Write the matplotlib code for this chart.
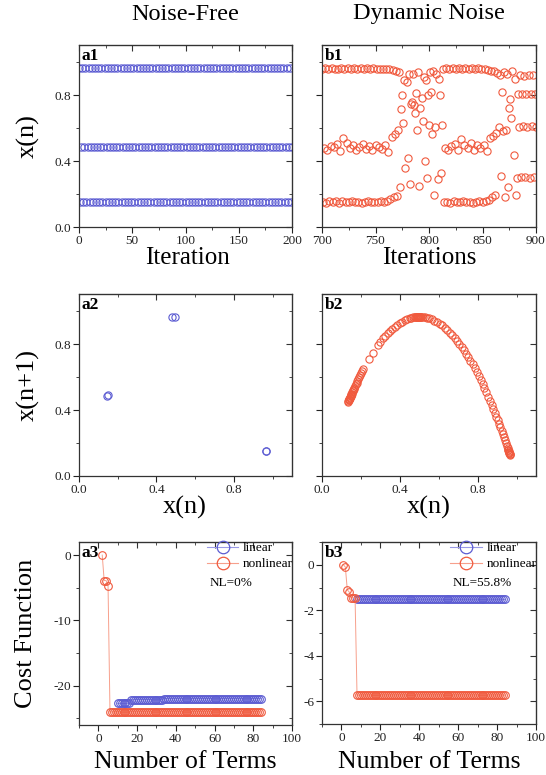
import numpy as np
import matplotlib
matplotlib.use('Agg')
import matplotlib.pyplot as plt
from matplotlib.ticker import MultipleLocator, FormatStrFormatter
from matplotlib.lines import Line2D

plt.rcParams['font.family'] = 'Liberation Serif'
plt.rcParams['axes.unicode_minus'] = False

BLUE = '#5b5bd2'
RED = '#f05a3e'

# ---- row 1: time series ----
a1_cycle = [0.965, 0.150, 0.487]
a1_iter = np.arange(0, 201)
a1_x = np.resize(a1_cycle, a1_iter.size)

b1_iter = np.arange(700, 901)
b1_x = [
    0.962, 0.150, 0.480, 0.964, 0.148, 0.470, 0.961, 0.155, 0.492, 0.963, 0.152, 0.485, 0.960, 0.158, 0.505,
    0.962, 0.147, 0.462, 0.964, 0.160, 0.540, 0.961, 0.153, 0.512, 0.963, 0.149, 0.478, 0.962, 0.156, 0.497,
    0.964, 0.151, 0.470, 0.961, 0.154, 0.488, 0.963, 0.148, 0.503, 0.962, 0.152, 0.476, 0.964, 0.157, 0.492,
    0.961, 0.150, 0.468, 0.963, 0.153, 0.498, 0.962, 0.149, 0.485, 0.960, 0.155, 0.472, 0.962, 0.152, 0.495,
    0.958, 0.160, 0.458,
    # burst 1
    0.957, 0.170, 0.545, 0.955, 0.180, 0.565, 0.948, 0.190, 0.590, 0.940,
    0.245, 0.714, 0.800, 0.633, 0.893, 0.360, 0.878, 0.420, 0.930, 0.260,
    0.745, 0.757, 0.930, 0.740, 0.693, 0.815, 0.589, 0.940, 0.247, 0.720,
    0.786, 0.645, 0.913, 0.400, 0.890, 0.300, 0.800, 0.620, 0.940, 0.820,
    0.565, 0.950, 0.195, 0.605, 0.930, 0.290, 0.900, 0.800, 0.330, 0.618,
    # window 2
    0.962, 0.152, 0.478, 0.964, 0.150, 0.465, 0.961, 0.148, 0.490, 0.963, 0.155, 0.505,
    0.962, 0.151, 0.470, 0.964, 0.149, 0.532, 0.961, 0.156, 0.500, 0.963, 0.150, 0.478,
    0.962, 0.153, 0.512, 0.964, 0.148, 0.470, 0.961, 0.152, 0.495, 0.963, 0.155, 0.482,
    0.960, 0.150, 0.500, 0.958, 0.158, 0.460,
    # burst 2
    0.955, 0.165, 0.540, 0.950, 0.180, 0.555, 0.945, 0.195, 0.570, 0.935,
    0.610, 0.920, 0.310, 0.820, 0.580, 0.940, 0.185, 0.589, 0.930, 0.245,
    0.720, 0.780, 0.664, 0.950, 0.440, 0.900,
    # period-4 end
    0.195, 0.300, 0.810, 0.610, 0.920, 0.302, 0.808, 0.612, 0.919, 0.301,
    0.810, 0.608, 0.920, 0.300, 0.809, 0.611, 0.921, 0.302, 0.810, 0.610,
]

# ---- row 2: return maps ----
a2_xn = [0.147, 0.150, 0.482, 0.495, 0.964, 0.966]
a2_xn1 = [0.486, 0.490, 0.966, 0.966, 0.152, 0.150]

b2_xn = [0.134, 0.136, 0.138, 0.139, 0.140, 0.141, 0.142, 0.143, 0.145, 0.147, 0.148, 0.150, 0.151,
         0.152, 0.155, 0.158, 0.160, 0.163, 0.166, 0.170, 0.174, 0.178, 0.182, 0.187, 0.192, 0.197,
         0.202, 0.208, 0.212, 0.243, 0.262, 0.290, 0.300, 0.315, 0.325, 0.338, 0.350, 0.362, 0.375,
         0.388, 0.400, 0.412, 0.425, 0.438, 0.450, 0.460, 0.470, 0.478, 0.480, 0.485, 0.488, 0.490,
         0.492, 0.495, 0.498, 0.500, 0.502, 0.505, 0.507, 0.510, 0.518, 0.528, 0.540, 0.552, 0.565,
         0.578, 0.592, 0.605, 0.618, 0.632, 0.645, 0.658, 0.670, 0.682, 0.694, 0.706, 0.718, 0.730,
         0.741, 0.752, 0.763, 0.774, 0.785, 0.795, 0.805, 0.815, 0.825, 0.835, 0.845, 0.855, 0.864,
         0.872, 0.880, 0.888, 0.896, 0.903, 0.910, 0.917, 0.923, 0.929, 0.935, 0.940, 0.945, 0.950,
         0.954, 0.957, 0.958, 0.960, 0.961, 0.962, 0.963, 0.964, 0.965, 0.966]
b2_xn1 = [0.449, 0.455, 0.460, 0.463, 0.466, 0.469, 0.472, 0.474, 0.480, 0.485, 0.488, 0.493, 0.496,
          0.499, 0.507, 0.515, 0.520, 0.528, 0.536, 0.546, 0.556, 0.566, 0.576, 0.588, 0.600, 0.612,
          0.624, 0.638, 0.647, 0.712, 0.748, 0.797, 0.813, 0.835, 0.849, 0.866, 0.880, 0.894, 0.907,
          0.919, 0.929, 0.938, 0.946, 0.953, 0.958, 0.961, 0.964, 0.966, 0.966, 0.967, 0.967, 0.967,
          0.967, 0.967, 0.968, 0.968, 0.968, 0.967, 0.967, 0.967, 0.966, 0.965, 0.961, 0.957, 0.951,
          0.944, 0.935, 0.925, 0.914, 0.900, 0.886, 0.871, 0.856, 0.839, 0.822, 0.803, 0.784, 0.763,
          0.743, 0.722, 0.700, 0.677, 0.653, 0.631, 0.608, 0.584, 0.559, 0.533, 0.507, 0.480, 0.455,
          0.432, 0.409, 0.385, 0.361, 0.339, 0.317, 0.295, 0.275, 0.255, 0.235, 0.218, 0.201, 0.184,
          0.170, 0.159, 0.156, 0.149, 0.145, 0.142, 0.138, 0.134, 0.131, 0.127]

# ---- row 3: cost function vs number of terms ----
a3_lin_terms = np.arange(10, 85)
a3_lin_cost = [-22.7] * 7 + [-22.1] * 17 + [-21.95] * 51
a3_nl_terms = np.arange(2, 85)
a3_nl_cost = [0.0, -3.9, -3.9, -4.7] + [-24.0] * 79

b3_lin_terms = np.arange(8, 85)
b3_lin_cost = [-1.52] * 77
b3_nl_terms = np.arange(1, 85)
b3_nl_cost = [0.0, -0.1, -1.1, -1.2, -1.45, -1.45, -1.45] + [-5.73] * 77

W, H = 546, 775
fig = plt.figure(figsize=(W / 100, H / 100), dpi=100)


def box(x0, y0, x1, y1):
    return [x0 / W, 1 - y1 / H, (x1 - x0) / W, (y1 - y0) / H]


ax_a1 = fig.add_axes(box(79, 45, 292, 227))
ax_b1 = fig.add_axes(box(322, 45, 536, 227))
ax_a2 = fig.add_axes(box(79, 294, 292, 476))
ax_b2 = fig.add_axes(box(322, 294, 536, 476))
ax_a3 = fig.add_axes(box(79, 542, 292, 725))
ax_b3 = fig.add_axes(box(322, 542, 536, 724))


def style(ax, xlim, ylim, xmaj, xmin, ymaj, ymin, xfmt=None, yfmt=None, ylabels=True):
    ax.set_xlim(xlim)
    ax.set_ylim(ylim)
    ax.xaxis.set_major_locator(MultipleLocator(xmaj))
    ax.xaxis.set_minor_locator(MultipleLocator(xmin))
    ax.yaxis.set_major_locator(MultipleLocator(ymaj))
    ax.yaxis.set_minor_locator(MultipleLocator(ymin))
    if xfmt:
        ax.xaxis.set_major_formatter(FormatStrFormatter(xfmt))
    if yfmt:
        ax.yaxis.set_major_formatter(FormatStrFormatter(yfmt))
    ax.tick_params(which='both', direction='out', labelsize=9.5, pad=1.5, colors='#222222')
    ax.tick_params(which='major', length=4, width=0.8)
    ax.tick_params(which='minor', length=2.5, width=0.6)
    if not ylabels:
        ax.tick_params(labelleft=False)
    for s in ax.spines.values():
        s.set_linewidth(0.9)
        s.set_color('#333333')
    # mirrored inward ticks on top and right
    sx = ax.secondary_xaxis('top')
    sx.xaxis.set_major_locator(MultipleLocator(xmaj))
    sx.xaxis.set_minor_locator(MultipleLocator(xmin))
    sx.tick_params(which='both', direction='in', labeltop=False, colors='#333333')
    sx.tick_params(which='major', length=4, width=0.8)
    sx.tick_params(which='minor', length=2.5, width=0.6)
    sy = ax.secondary_yaxis('right')
    sy.yaxis.set_major_locator(MultipleLocator(ymaj))
    sy.yaxis.set_minor_locator(MultipleLocator(ymin))
    sy.tick_params(which='both', direction='in', labelright=False, colors='#333333')
    sy.tick_params(which='major', length=4, width=0.8)
    sy.tick_params(which='minor', length=2.5, width=0.6)


mk = dict(marker='o', mfc='none', ms=5.2, mew=0.8, linestyle='none')

ax_a1.plot(a1_iter, a1_x, mec=BLUE, **mk)
style(ax_a1, (0, 200), (0, 1.105), 50, 25, 0.4, 0.2, yfmt='%.1f')

ax_b1.plot(b1_iter, b1_x, mec=RED, **mk)
style(ax_b1, (700, 900), (0, 1.105), 50, 25, 0.4, 0.2, ylabels=False)

ax_a2.plot(a2_xn, a2_xn1, mec=BLUE, **mk)
style(ax_a2, (0, 1.1), (0, 1.105), 0.4, 0.2, 0.4, 0.2, xfmt='%.1f', yfmt='%.1f')

ax_b2.plot(b2_xn, b2_xn1, mec=RED, **mk)
style(ax_b2, (0, 1.1), (0, 1.105), 0.4, 0.2, 0.4, 0.2, xfmt='%.1f', ylabels=False)

lk = dict(marker='o', mfc='none', ms=5.5, mew=0.8, lw=0.7)
ax_a3.plot(a3_lin_terms, a3_lin_cost, color='#9a9ae6', mec=BLUE, **lk)
ax_a3.plot(a3_nl_terms, a3_nl_cost, color='#f7a08c', mec=RED, **lk)
style(ax_a3, (-10, 100), (-26, 2), 20, 10, 10, 5)

ax_b3.plot(b3_lin_terms, b3_lin_cost, color='#9a9ae6', mec=BLUE, **lk)
ax_b3.plot(b3_nl_terms, b3_nl_cost, color='#f7a08c', mec=RED, **lk)
style(ax_b3, (-10, 100), (-7, 1), 20, 10, 2, 1)

handles = [
    Line2D([], [], color='#9a9ae6', lw=0.8, marker='o', mfc='none', mec=BLUE, ms=9, mew=0.9),
    Line2D([], [], color='#f7a08c', lw=0.8, marker='o', mfc='none', mec=RED, ms=9, mew=0.9),
]
for ax, nl in [(ax_a3, 'NL=0%'), (ax_b3, 'NL=55.8%')]:
    ax.legend(handles, ['linear', 'nonlinear'], loc='upper left', bbox_to_anchor=(0.6, 1.0),
              frameon=False, fontsize=9.5, handlelength=2.4, handletextpad=0.35,
              labelspacing=0.3, borderpad=0.0, borderaxespad=0.0)
    ax.text(0.612, 0.775, nl, transform=ax.transAxes, fontsize=9.5, va='center', ha='left')

for ax, lab in [(ax_a1, 'a1'), (ax_b1, 'b1'), (ax_a2, 'a2'), (ax_b2, 'b2'), (ax_a3, 'a3'), (ax_b3, 'b3')]:
    ax.text(0.012, 0.985, lab, transform=ax.transAxes, fontsize=12.5, fontweight='bold',
            va='top', ha='left')

# column titles
fig.text(185 / W, 1 - 14 / H, 'Noise-Free', fontsize=17.5, ha='center', va='center')
fig.text(429 / W, 1 - 14 / H, 'Dynamic Noise', fontsize=17.5, ha='center', va='center')

# y labels
fig.text(28 / W, 1 - 136 / H, 'x(n)', fontsize=19, rotation=90, ha='center', va='center')
fig.text(28 / W, 1 - 385 / H, 'x(n+1)', fontsize=19, rotation=90, ha='center', va='center')
fig.text(26 / W, 1 - 633 / H, 'Cost Function', fontsize=19, rotation=90, ha='center', va='center')

# x labels
fig.text(187 / W, 1 - 258 / H, 'Iteration', fontsize=18, ha='center', va='center')
fig.text(429 / W, 1 - 258 / H, 'Iterations', fontsize=18, ha='center', va='center')
fig.text(185 / W, 1 - 507 / H, 'x(n)', fontsize=19, ha='center', va='center')
fig.text(429 / W, 1 - 507 / H, 'x(n)', fontsize=19, ha='center', va='center')
fig.text(185 / W, 1 - 762 / H, 'Number of Terms', fontsize=18.5, ha='center', va='center')
fig.text(429 / W, 1 - 762 / H, 'Number of Terms', fontsize=18.5, ha='center', va='center')

fig.savefig('out.png', dpi=100)
